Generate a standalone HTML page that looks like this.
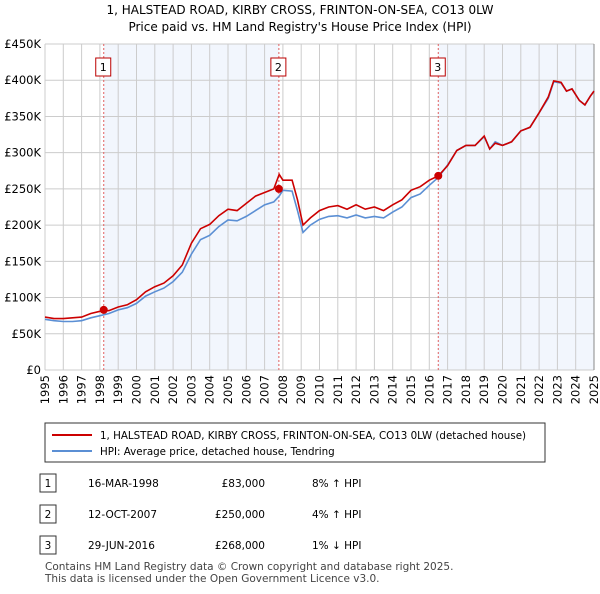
<!DOCTYPE html>
<html><head><meta charset="utf-8"><style>
body{margin:0;background:#fff;font-family:"DejaVu Sans",sans-serif;}
svg text{font-family:"DejaVu Sans",sans-serif;}
</style></head><body>
<svg id="c" width="600" height="590" xmlns="http://www.w3.org/2000/svg">
<text x="300" y="14" text-anchor="middle" font-size="12">1, HALSTEAD ROAD, KIRBY CROSS, FRINTON-ON-SEA, CO13 0LW</text>
<text x="300" y="31" text-anchor="middle" font-size="12">Price paid vs. HM Land Registry's House Price Index (HPI)</text>
<g id="plot"></g>
<rect x="45" y="423" width="500" height="39" fill="#fff" stroke="#333"/>
<line x1="52" y1="435" x2="92" y2="435" stroke="#cc0000" stroke-width="2"/>
<text x="100" y="439" font-size="10.3">1, HALSTEAD ROAD, KIRBY CROSS, FRINTON-ON-SEA, CO13 0LW (detached house)</text>
<line x1="52" y1="451" x2="92" y2="451" stroke="#5b8fd4" stroke-width="2"/>
<text x="100" y="455" font-size="10.3">HPI: Average price, detached house, Tendring</text>
<g id="tbl" font-size="10.5"></g>
<text x="45" y="570" font-size="10.5" fill="#444">Contains HM Land Registry data © Crown copyright and database right 2025.</text>
<text x="45" y="582" font-size="10.5" fill="#444">This data is licensed under the Open Government Licence v3.0.</text>
</svg>
<script>
const years=[1995,1995.5,1996,1996.5,1997,1997.5,1998,1998.5,1999,1999.5,2000,2000.5,2001,2001.5,2002,2002.5,2003,2003.5,2004,2004.5,2005,2005.5,2006,2006.5,2007,2007.5,2007.8,2008,2008.5,2008.8,2009.1,2009.5,2010,2010.5,2011,2011.5,2012,2012.5,2013,2013.5,2014,2014.5,2015,2015.5,2016,2016.5,2017,2017.5,2018,2018.5,2019,2019.3,2019.6,2020,2020.5,2021,2021.5,2022,2022.5,2022.8,2023.2,2023.5,2023.8,2024.2,2024.5,2024.8,2025];
const hpi=[70,68,67,67,68,72,75,78,83,86,92,102,108,113,122,135,160,180,186,198,207,206,212,220,228,232,240,248,247,220,190,200,208,212,213,210,214,210,212,210,218,225,238,243,255,266,283,303,310,310,322,305,315,310,315,330,335,355,375,398,396,385,388,372,366,378,385];
const price=[73,71,71,72,73,78,81,82,87,90,97,108,115,120,130,145,175,195,201,213,222,220,230,240,245,250,270,262,262,235,200,210,220,225,227,222,228,222,225,220,228,235,248,253,262,268,282,303,310,310,323,305,313,310,315,330,335,355,377,399,397,385,388,372,366,378,385];
const yTicks=[0,50,100,150,200,250,300,350,400,450];
const xTicks=[1995,1996,1997,1998,1999,2000,2001,2002,2003,2004,2005,2006,2007,2008,2009,2010,2011,2012,2013,2014,2015,2016,2017,2018,2019,2020,2021,2022,2023,2024,2025];
const saleYears=[1998.21,2007.78,2016.49];
const saleValues=[83,250,268];
const saleLabels=["1","2","3"];
const saleDates=["16-MAR-1998","12-OCT-2007","29-JUN-2016"];
const salePrices=["£83,000","£250,000","£268,000"];
const saleHpi=["8% ↑ HPI","4% ↑ HPI","1% ↓ HPI"];
const X0=45,X1=594,Y0=370,Y1=44;
const sx=y=>X0+(y-1995)/30*(X1-X0);
const sy=v=>Y0-v/450*(Y0-Y1);
const NS="http://www.w3.org/2000/svg";
const g=document.getElementById('plot');
function mk(t,a,p){const e=document.createElementNS(NS,t);for(const k in a)e.setAttribute(k,a[k]);(p||g).appendChild(e);return e;}
let e;
e=mk('rect',{x:sx(saleYears[0]),y:Y1,width:sx(saleYears[1])-sx(saleYears[0]),height:Y0-Y1,fill:'#f2f6fd'});


e=mk('rect',{x:sx(saleYears[2]),y:Y1,width:X1-sx(saleYears[2]),height:Y0-Y1,fill:'#f2f6fd'});


yTicks.forEach(v=>{
 e=mk('line',{x1:X0,x2:X1,y1:sy(v),y2:sy(v),stroke:'#ccc'});
 
 
 e=mk('text',{x:X0-4,y:sy(v)+4,'text-anchor':'end','font-size':'11.5'});e.textContent=v==0?'£0':'£'+v+'K';
 
 
});
xTicks.forEach(y=>{
 e=mk('line',{x1:sx(y),x2:sx(y),y1:Y1,y2:Y0,stroke:'#ccc'});
 
 
 e=mk('text',{x:0,y:0,'font-size':'11.5','text-anchor':'end',transform:`translate(${sx(y)+4},${Y0+5}) rotate(-90)`});e.textContent=y;
 
 
});
e=mk('line',{x1:X1,x2:X1,y1:Y1,y2:Y0,stroke:'#888'});


saleYears.forEach((y,i)=>{
 e=mk('line',{x1:sx(y),x2:sx(y),y1:Y1,y2:Y0,stroke:'#e06060','stroke-dasharray':'2,2'});
 
 
 e=mk('rect',{x:sx(y)-8,y:58,width:15,height:18,fill:'#fff',stroke:'#b00'});
 
 
 e=mk('text',{x:sx(y)-0.5,y:71,'text-anchor':'middle','font-size':'11'});e.textContent=saleLabels[i];
 
 
});
const pts=a=>a.map((v,i)=>sx(years[i]).toFixed(1)+','+sy(v).toFixed(1)).join(' ');
e=mk('polyline',{points:pts(hpi),fill:'none',stroke:'#5b8fd4','stroke-width':1.6});


e=mk('polyline',{points:pts(price),fill:'none',stroke:'#cc0000','stroke-width':1.6});


saleYears.forEach((y,i)=>{
 e=mk('circle',{cx:sx(y),cy:sy(saleValues[i]),r:4,fill:'#cc0000'});
 
 
});
const t=document.getElementById('tbl');
saleLabels.forEach((l,i)=>{
 const cy=483+i*31;
 e=mk('rect',{x:40,y:cy-9,width:16,height:18,fill:'#fff',stroke:'#333'},t);
 
 
 e=mk('text',{x:48,y:cy+4,'text-anchor':'middle'},t);e.textContent=l;
 
 
 e=mk('text',{x:88,y:cy+4},t);e.textContent=saleDates[i];
 
 
 e=mk('text',{x:265,y:cy+4,'text-anchor':'end'},t);e.textContent=salePrices[i];
 
 
 e=mk('text',{x:312,y:cy+4},t);e.textContent=saleHpi[i];
 
 
});
</script>
</body></html>
